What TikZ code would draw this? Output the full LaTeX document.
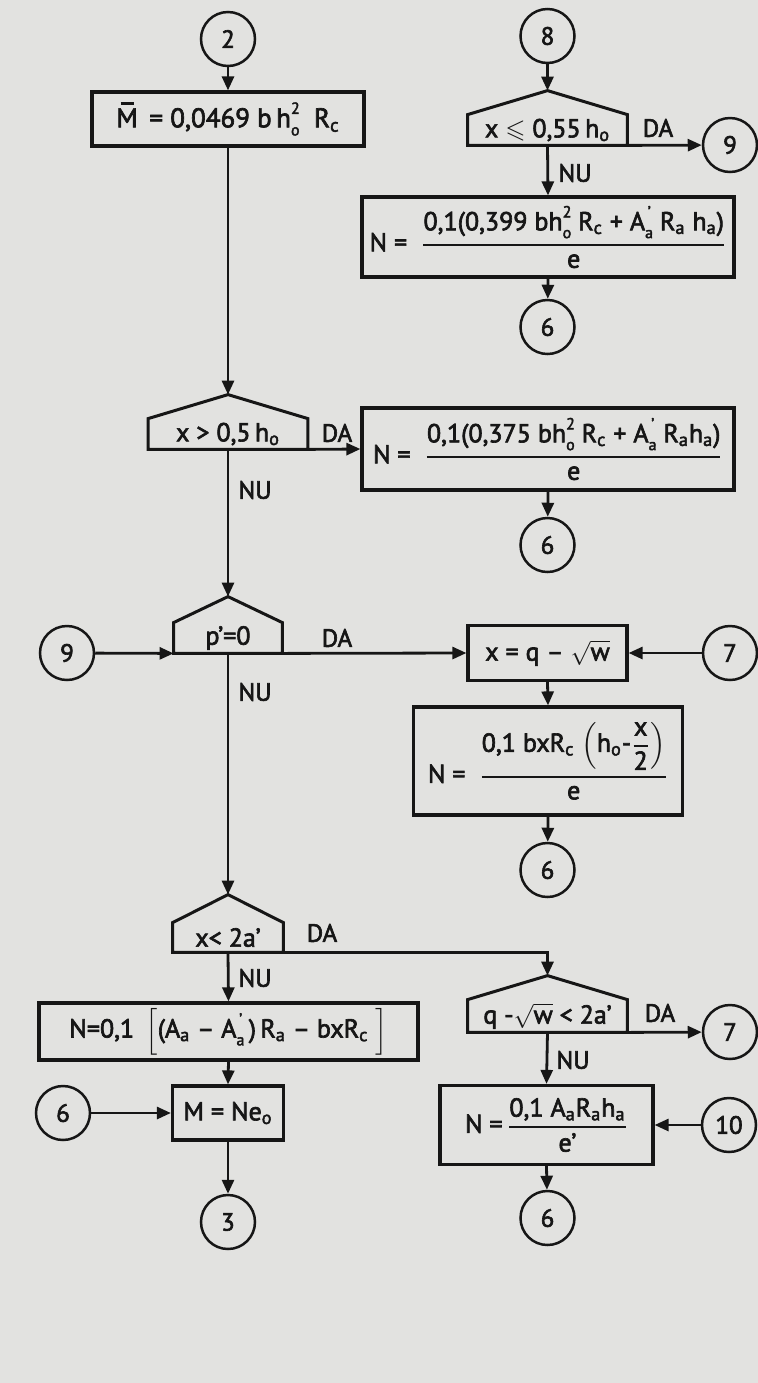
\documentclass[tikz,border=0pt]{standalone}
\usepackage{amsmath,amssymb}
\usepackage{fontspec}
\setmainfont{PT Sans}[FakeBold=2.5]
\usetikzlibrary{arrows.meta,calc}
\definecolor{pagebg}{RGB}{226,226,224}
\definecolor{ink}{RGB}{22,22,22}
\newcommand\sbs[1]{\textsubscript{#1}}
\newcommand\supsub[2]{\makebox[0pt][l]{\raisebox{0.5em}{\fontsize{8}{8}\selectfont #1}}\raisebox{-0.3em}{\fontsize{8}{8}\selectfont #2}}
\newcommand\hoo{h\supsub{2}{o}}
\newcommand\Aap{A\supsub{\,’}{a}}
\newcommand\Mbar{\makebox[0pt][l]{\hspace{0.16em}\rule[0.84em]{0.5em}{0.08em}}M}
\newcommand\roof[2]{%
  \coordinate (#1t) at ($(#1.north)+(0,-#2)$);
  \draw[dec] (#1.south west) -- (#1.north west) -- (#1t) -- (#1.north east) -- (#1.south east) -- cycle;}
\begin{document}
\begin{tikzpicture}[x=0.5pt,y=-0.5pt,
  every node/.style={text=ink},
  fml/.style={font=\fontsize{13}{15}\selectfont},
  box/.style={draw=ink, line width=1.6pt, rectangle, inner sep=0pt, fml},
  conn/.style={circle, draw=ink, line width=1.25pt, minimum size=27pt, inner sep=0pt, font=\fontsize{12.5}{14}\selectfont},
  body/.style={rectangle, inner sep=0pt, fml},
  dec/.style={draw=ink, line width=1.5pt, line join=miter},
  arr/.style={draw=ink, line width=1.4pt, -{Triangle[length=7pt,width=6pt]}},
  lab/.style={font=\fontsize{12.5}{14}\selectfont},
]
\fill[pagebg] (0,0) rectangle (758,1383);
\useasboundingbox (0,0) rectangle (758,1383);

% ---------- left column ----------
\node[conn] (c2) at (228,39) {2};
\node[box, minimum width=136pt, minimum height=27pt, font=\fontsize{13.5}{15}\selectfont] (B1) at (228,119)
  {\Mbar\ \,=\ 0,0469\ b\,\hoo\ \ R\sbs{c}};
\node[body, minimum width=79.5pt, minimum height=15pt] (D2) at (228,434)
  {x > 0,5\,h\sbs{o}};
\roof{D2}{24}
\node[body, minimum width=54pt, minimum height=15pt] (D3) at (228,638)
  {p’=0};
\roof{D3}{26}
\node[conn] (c9b) at (67,653) {9};
\node[body, minimum width=55pt, minimum height=14.5pt] (D4) at (228,937.5)
  {x< 2a’};
\roof{D4}{28}
\node[box, minimum width=189.5pt, minimum height=28.5pt] (B6) at (228.5,1031.5)
  {N=0,1 \,$\Big[$(A\sbs{a} – \Aap\,)\,R\sbs{a} – bxR\sbs{c} $\Big]$};
\node[box, minimum width=55.5pt, minimum height=27pt] (B7) at (228,1113)
  {M = Ne\sbs{o}};
\node[conn] (c6e) at (63,1113) {6};
\node[conn] (c3) at (228,1222) {3};

% ---------- right column ----------
\node[conn] (c8) at (547.5,36) {8};
\node[body, minimum width=79.5pt, minimum height=15pt] (D1) at (547.5,130)
  {x $\leqslant$ 0,55\,h\sbs{o}};
\roof{D1}{24}
\node[conn] (c9a) at (730,145) {9};
\node[box, minimum width=186pt, minimum height=40pt] (B2) at (548,237)
  {N = \ $\genfrac{}{}{1pt}{0}{\text{0,1(0,399 b\hoo\ R\sbs{c} + \Aap\ R\sbs{a} h\sbs{a})}}{\text{e}}$};
\node[conn] (c6a) at (547.5,327) {6};
\node[box, minimum width=186pt, minimum height=41pt] (B3) at (548,449)
  {N = \ $\genfrac{}{}{1pt}{0}{\text{0,1(0,375 b\hoo\ R\sbs{c} + \Aap\ R\sbs{a}h\sbs{a})}}{\text{e}}$};
\node[conn] (c6b) at (547.5,545) {6};
\node[box, minimum width=79.5pt, minimum height=27.5pt] (B4) at (547.5,653)
  {x = q – $\sqrt{\text{w}}$};
\node[conn] (c7a) at (730,653) {7};
\node[box, minimum width=134.5pt, minimum height=54pt] (B5) at (548,761)
  {N = \ $\genfrac{}{}{1pt}{0}{\text{0,1 bxR\sbs{c} $\left(\text{h\sbs{o}-}\genfrac{}{}{0.8pt}{0}{\text{x}}{\text{2}}\right)$}}{\text{e}}$};
\node[conn] (c6c) at (547.5,870) {6};
\node[body, minimum width=79.5pt, minimum height=16pt] (D5) at (547.5,1016)
  {q -$\sqrt{\text{w}}$ < 2a’};
\roof{D5}{24}
\node[conn] (c7b) at (730,1032) {7};
\node[box, minimum width=106.5pt, minimum height=39.5pt] (B8) at (546.5,1125)
  {N =\,$\genfrac{}{}{0.9pt}{0}{\text{0,1 A\sbs{a}R\sbs{a}h\sbs{a}}}{\text{e’}}$};
\node[conn] (c10) at (729,1125) {10};
\node[conn] (c6d) at (547.5,1218) {6};

% ---------- labels ----------
\node[lab] (l1) at (658,128) {DA};
\node[lab] (l2) at (337,433) {DA};
\node[lab] (l3) at (337,638) {DA};
\node[lab] (l4) at (322,933) {DA};
\node[lab] (l5) at (660,1013) {DA};
\node[lab] (n1) at (575,173) {NU};
\node[lab] (n2) at (255,490) {NU};
\node[lab] (n3) at (255,692) {NU};
\node[lab] (n4) at (255,978) {NU};
\node[lab] (n5) at (573,1060) {NU};

% ---------- connectors ----------
\draw[arr] (c2) -- (B1.north);
\draw[arr] (B1.south) -- (D2t);
\draw[arr] (D2.south east) -- (B3.west);
\draw[arr] (B3.south) -- (c6b);
\draw[arr] (D2.south) -- (D3t);
\draw[arr] (c9b) -- (D3.south west);
\draw[arr] (D3.south east) -- (B4.west);
\draw[arr] (c7a) -- (B4.east);
\draw[arr] (B4.south) -- (B5.north);
\draw[arr] (B5.south) -- (c6c);
\draw[arr] (D3.south) -- (D4t);
\draw[arr] (D4.south east) -| (D5t);
\draw[arr] (D5.south east) -- (c7b);
\draw[arr] (D5.south) -- (B8.north);
\draw[arr] (c10) -- (B8.east);
\draw[arr] (B8.south) -- (c6d);
\draw[arr] (D4.south) -- (B6.north);
\draw[arr] (B6.south) -- (B7.north);
\draw[arr] (c6e) -- (B7.west);
\draw[arr] (B7.south) -- (c3);
\draw[arr] (c8) -- (D1t);
\draw[arr] (D1.south east) -- (c9a);
\draw[arr] (D1.south) -- (B2.north);
\draw[arr] (B2.south) -- (c6a);
\end{tikzpicture}
\end{document}
